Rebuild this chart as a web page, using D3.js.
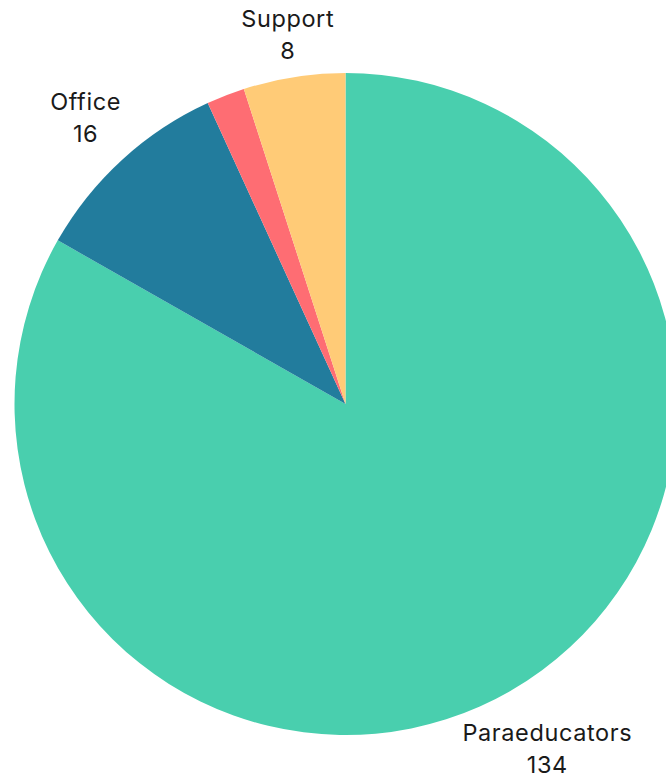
<!DOCTYPE html>
<html>
<head>
<meta charset="utf-8">
<script src="https://cdn.jsdelivr.net/npm/d3@7"></script>
<style>
  html, body { margin: 0; padding: 0; background: #fff; overflow: hidden; }
  svg { display: block; }
</style>
</head>
<body>
<svg id="chart" width="666" height="775"></svg>
<script>
const categories = ["Paraeducators", "Office", "Other", "Support"];
const values = [134, 16, 3, 8];
const colors = ["#49CFAE", "#227C9D", "#FE6D73", "#FFCB77"];
const showLabel = [true, true, false, true];

const width = 666, height = 775;
const cx = 345.5, cy = 404, radius = 331;
const labelGap = 12;
const fontSize = 23.5, lineHeight = 32;
const baselineShift = -2.5;

const data = categories.map((c, i) => ({ name: c, value: values[i], color: colors[i], show: showLabel[i] }));

const svg = d3.select("#chart");
const g = svg.append("g").attr("transform", `translate(${cx},${cy})`);

const pie = d3.pie().sort(null).value(d => d.value);
const arc = d3.arc().innerRadius(0).outerRadius(radius);
const arcs = pie(data);

g.selectAll("path.slice")
  .data(arcs)
  .join("path")
  .attr("class", "slice")
  .attr("d", arc)
  .attr("fill", d => d.data.color);

const labels = g.selectAll("text.label")
  .data(arcs.filter(d => d.data.show))
  .join("text")
  .attr("class", "label")
  .attr("text-anchor", "middle")
  .attr("font-family", "Inter, 'Noto Sans', sans-serif")
  .attr("font-size", fontSize)
  .attr("letter-spacing", "0.6px")
  .attr("fill", "#1a1a1a");

labels.append("tspan").attr("x", 0).attr("y", 0).text(d => d.data.name);
labels.append("tspan").attr("x", 0).attr("y", lineHeight).text(d => d.data.value);

labels.each(function(d) {
  const el = d3.select(this);
  const bb = this.getBBox();
  const capH = fontSize * 0.72;
  const w = bb.width, h = lineHeight + capH;
  const inkTop = -capH;
  const mid = (d.startAngle + d.endAngle) / 2;
  const sx = Math.sin(mid), sy = -Math.cos(mid);
  const target = radius + labelGap;
  const nearest = (dist) => {
    const bx = sx * dist, by = sy * dist;
    const nx = Math.max(Math.abs(bx) - w / 2, 0) * Math.sign(bx);
    const ny = Math.max(Math.abs(by) - h / 2, 0) * Math.sign(by);
    return Math.hypot(nx, ny);
  };
  let lo = 0, hi = radius * 3;
  for (let k = 0; k < 60; k++) {
    const m = (lo + hi) / 2;
    if (nearest(m) < target) lo = m; else hi = m;
  }
  const bxC = sx * lo, byC = sy * lo;
  el.attr("transform", `translate(${bxC},${byC - h / 2 - inkTop + baselineShift})`);
});
</script>
</body>
</html>
